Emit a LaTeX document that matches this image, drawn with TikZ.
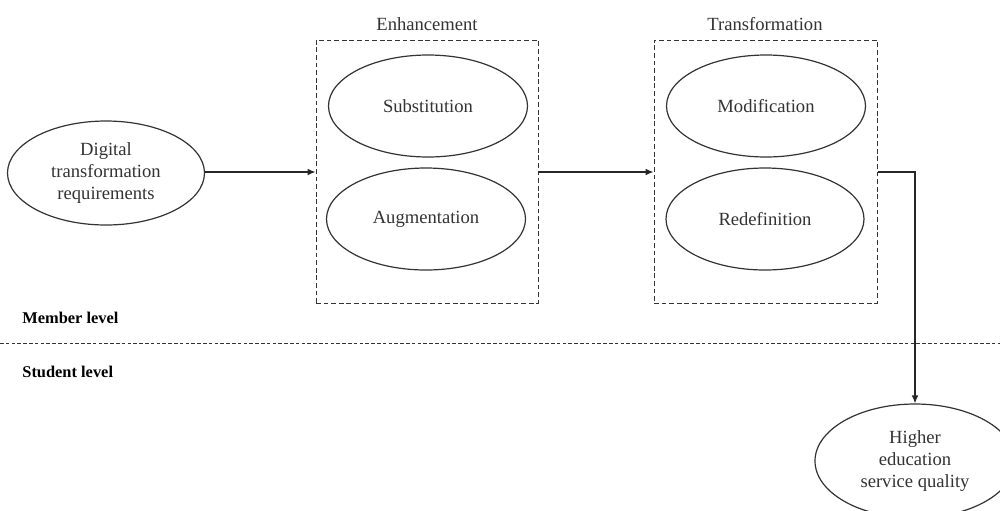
\documentclass[tikz,border=0pt]{standalone}
\usepackage{fontspec}
\setmainfont{Liberation Serif}
\usetikzlibrary{shapes.geometric,arrows.meta}
\begin{document}
\begin{tikzpicture}[x=0.5pt,y=-0.5pt,
  ell/.style={draw=black!80, ellipse, inner sep=0pt, align=center, line width=0.6pt,
    font=\fontsize{9.3}{11}\selectfont, text=black!80},
  grp/.style={draw=black!80, dash pattern=on 2.4pt off 1.4pt, line width=0.5pt},
  arr/.style={draw=black!85, -{Latex[length=4pt,width=3.4pt]}, line width=0.6pt},
  ttl/.style={font=\fontsize{9.3}{11}\selectfont, text=black!80, inner sep=0pt},
  lvl/.style={font=\fontsize{8.2}{10}\selectfont\bfseries, anchor=west, inner sep=0pt}]
\clip (0,0) rectangle (1000,510);
\fill[white] (0,0) rectangle (1000,510);

% group boxes
\node[grp, minimum width=111pt, minimum height=131.5pt] (ebox) at (427,171.5) {};
\node[grp, minimum width=111.5pt, minimum height=131.5pt] (tbox) at (765.5,171.5) {};
\node[ttl] (etitle) at (427,24) {Enhancement};
\node[ttl] (ttitle) at (765,24) {Transformation};

% ellipses
\node[ell, minimum width=98.5pt, minimum height=52pt] (dtr) at (106,173) {Digital\\transformation\\requirements};
\node[ell, minimum width=99.5pt, minimum height=51pt] (sub) at (428,106) {Substitution};
\node[ell, minimum width=99.5pt, minimum height=51pt] (aug) at (426,219) {Augmentation};
\node[ell, minimum width=99.5pt, minimum height=51pt] (mod) at (766,106) {Modification};
\node[ell, minimum width=99pt, minimum height=51pt] (red) at (765,219) {Redefinition};
\node[ell, minimum width=100pt, minimum height=57pt] (hesq) at (915,461) {Higher\\education\\service quality};

% connectors
\draw[arr] (dtr.east |- 0,172) -- (ebox.west |- 0,172);
\draw[arr] (ebox.east |- 0,172) -- (tbox.west |- 0,172);
\draw[arr] (tbox.east |- 0,172) -| (hesq.north);

% levels
\coordinate (ll) at (0,343);
\coordinate (lr) at (1000,343);
\draw[draw=black!80, dash pattern=on 1.8pt off 1.1pt, line width=0.5pt] (ll) -- (lr);
\node[lvl] (member) at (22,318) {Member level};
\node[lvl] (student) at (22,372) {Student level};
\end{tikzpicture}
\end{document}
